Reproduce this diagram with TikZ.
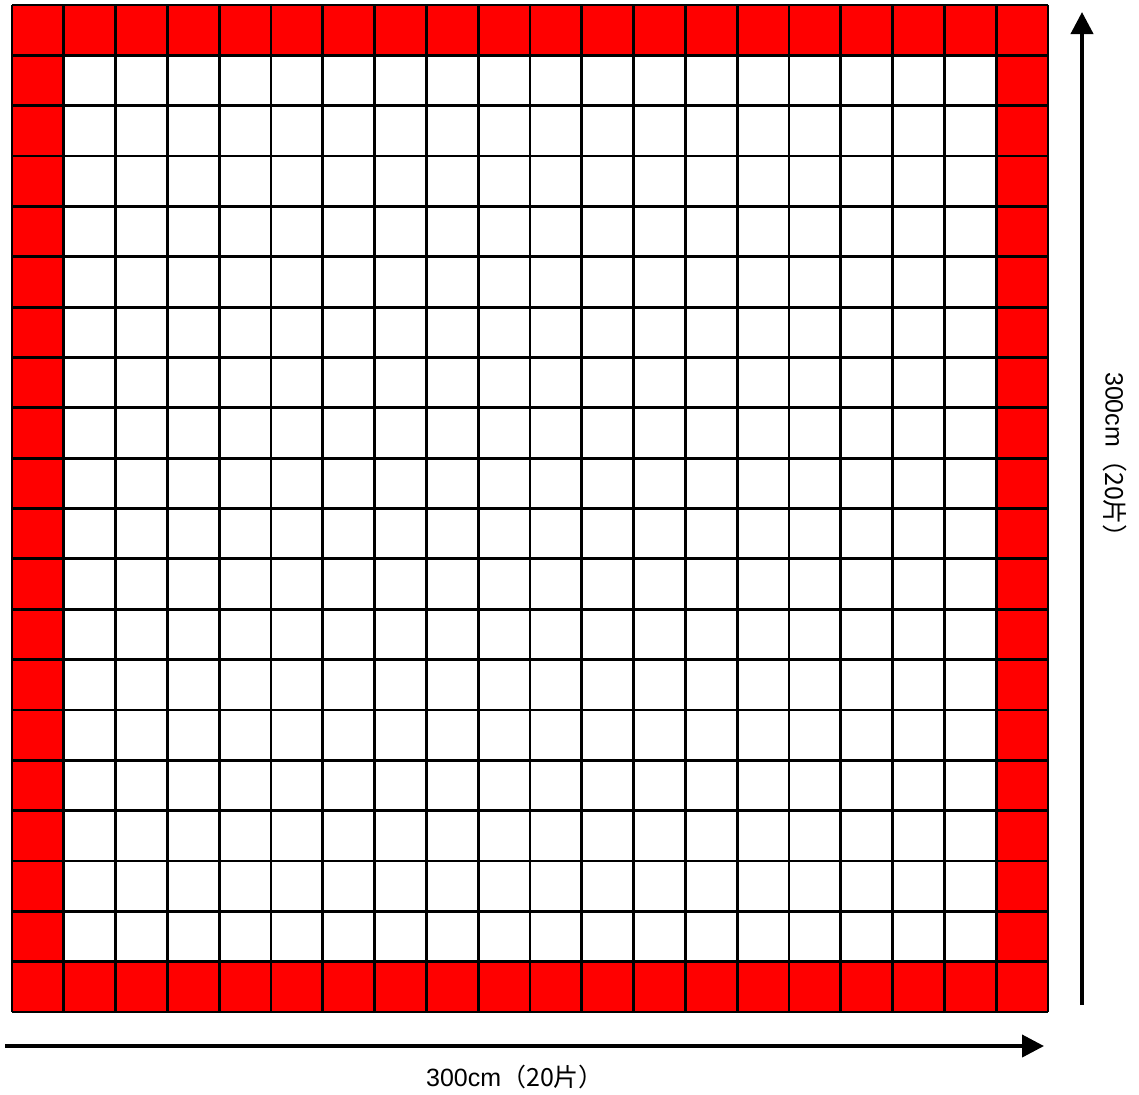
\documentclass[tikz,border=0pt]{standalone}
\usepackage{fontspec}
\setmainfont{Liberation Sans}
\newfontfamily\cjk{Noto Sans CJK SC}
\usetikzlibrary{arrows.meta}
\tikzset{gridline/.style={draw=black,line width=1.4pt},
  dim/.style={-{Triangle[length=11pt,width=11pt]},line width=2pt},
  dimlabel/.style={font=\fontsize{12.5}{15}\selectfont,inner sep=0pt}}
\begin{document}
\begin{tikzpicture}[x=0.5pt,y=-0.5pt]
\useasboundingbox (0,0) rectangle (1139,1094);
\def\cw{51.8}\def\ch{50.35}
% red border ring and white field
\fill[red] (12,5) rectangle (1048,1012);
\fill[white] ({12+\cw},{5+\ch}) rectangle ({1048-\cw},{1012-\ch});
\foreach \k in {0,...,20}{
  \draw[gridline] ({12+\k*\cw},5) -- ({12+\k*\cw},1012);
  \draw[gridline] (12,{5+\k*\ch}) -- (1048,{5+\k*\ch});
}
% dimensions
\coordinate (xs) at (5,1046);
\coordinate (xe) at (1044,1046);
\coordinate (ys) at (1082,1005);
\coordinate (ye) at (1082,12);
\draw[dim] (xs) -- (xe);
\draw[dim] (ys) -- (ye);
\node[dimlabel] (xlab) at (515,1077) {300cm{\cjk（20片）}};
\node[dimlabel,rotate=-90] (ylab) at (1115,461) {300cm{\cjk（20片）}};
\end{tikzpicture}
\end{document}
